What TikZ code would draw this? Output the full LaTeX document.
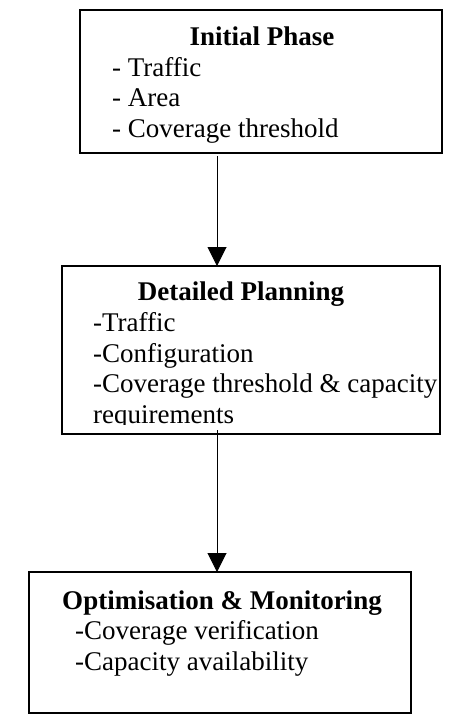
\documentclass[tikz,border=0pt]{standalone}
\usepackage{fontspec}
\setmainfont{Liberation Serif}
\usetikzlibrary{arrows.meta}
\begin{document}
\begin{tikzpicture}[x=1pt,y=-1pt,
  box/.style={draw=black, line width=1.4pt, inner sep=0pt, outer sep=0pt, rectangle},
  ttl/.style={anchor=base, font=\fontsize{27}{31}\selectfont\bfseries, inner sep=0pt},
  itm/.style={anchor=base west, font=\fontsize{27}{31}\selectfont, inner sep=0pt},
  flow/.style={line width=1pt, -{Triangle[width=19pt,length=19pt]}}]
\useasboundingbox (0,0) rectangle (452,715);

% phase boxes
\node[box, minimum width=362pt, minimum height=143pt] (b1) at (261,81.5) {};
\node[box, minimum width=378pt, minimum height=168pt] (b2) at (251,350) {};
\node[box, minimum width=382pt, minimum height=141pt] (b3) at (220,642.5) {};

% initial phase
\node[ttl] (t1) at (262,45) {Initial Phase};
\node[itm] (b1l1) at (112,76) {- Traffic};
\node[itm] (b1l2) at (112,106) {- Area};
\node[itm] (b1l3) at (112,137) {- Coverage threshold};

% detailed planning
\node[ttl] (t2) at (241,300) {Detailed Planning};
\node[itm] (b2l1) at (93,331) {-Traffic};
\node[itm] (b2l2) at (93,362) {-Configuration};
\node[itm] (b2l3) at (93,392) {-Coverage threshold \& capacity};
% last wrapped line runs past the box floor and is cut off
\begin{scope}
  \clip (62,400) rectangle (440,424.5);
  \node[itm] (b2l4) at (93,423) {requirements};
\end{scope}

% optimisation and monitoring
\node[ttl] (t3) at (222,609) {Optimisation \& Monitoring};
\node[itm] (b3l1) at (75,639) {-Coverage verification};
\node[itm] (b3l2) at (75,670) {-Capacity availability};

% connectors
\coordinate (spine) at (217,0);
\draw[flow] ([yshift=-3pt]spine |- b1.south) -- (spine |- b2.north);
\draw[flow] ([yshift=4pt]spine |- b2.south) -- (spine |- b3.north);
\end{tikzpicture}
\end{document}
